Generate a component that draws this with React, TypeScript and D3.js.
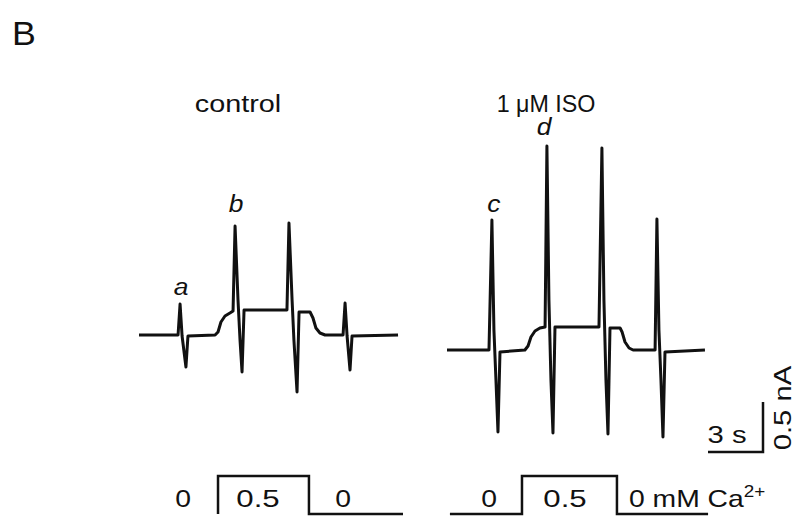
import React from 'react';
import * as d3 from 'd3';

// traces: time (s) / current (nA)
const controlTime = [0, 2.13, 2.24, 2.35, 2.56, 2.67, 4.15, 4.31, 4.47, 4.69, 4.96, 5.13, 5.24, 5.4, 5.51, 5.62, 5.73, 8.07, 8.18, 8.35, 8.45, 8.62, 8.73, 9.33, 9.49, 9.65, 9.87, 10.15, 11.13, 11.24, 11.35, 11.51, 11.62, 14.13];
const controlCurrent = [0, 0, 0.31, -0.01, -0.32, -0.01, 0, 0.03, 0.13, 0.19, 0.22, 0.24, 1.09, 0.35, -0.05, -0.37, 0.25, 0.25, 1.12, 0.35, -0.05, -0.57, 0.23, 0.23, 0.17, 0.07, 0.02, 0, 0, 0.32, -0.01, -0.35, -0.01, 0];

const isoTime = [0, 2.29, 2.45, 2.56, 2.67, 2.78, 2.89, 4.25, 4.42, 4.58, 4.8, 5.07, 5.35, 5.45, 5.56, 5.67, 5.78, 5.89, 8.29, 8.45, 8.56, 8.67, 8.78, 8.89, 9.44, 9.55, 9.71, 9.93, 10.15, 11.35, 11.45, 11.56, 11.67, 11.78, 11.89, 14.07];
const isoCurrent = [0, 0, 1.3, 0.2, -0.3, -0.82, -0.02, 0, 0.04, 0.13, 0.19, 0.22, 0.23, 2.04, 0.5, -0.3, -0.83, 0.23, 0.23, 2.02, 0.5, -0.3, -0.84, 0.22, 0.22, 0.18, 0.08, 0.02, 0, 0, 1.31, 0.2, -0.3, -0.87, -0.02, 0];

// Ca2+ protocol (s, mM)
const controlStepTime = [4.31, 4.31, 9.27, 9.27, 14.4];
const controlStepCa = [0, 0.5, 0.5, 0, 0];
const isoStepTime = [0.16, 4.09, 4.09, 9.27, 9.27, 14.24];
const isoStepCa = [0, 0, 0.5, 0.5, 0, 0];

const peakLabels = ['a', 'b', 'c', 'd'];
const stepLabels = ['0', '0.5', '0'];

const FONT = 'Liberation Sans, Arial, sans-serif';
const W = 797;
const H = 516;
const PX_PER_S = 55 / 3;
const PX_PER_NA = 100;

function zip(t: number[], v: number[]): [number, number][] {
    return t.map((d, i) => [d, v[i]]);
}

// the scanned lettering is a bit wider than Arial, so stretch it horizontally
function Label({ x, y, sx = 1.18, size = 24, rotate = 0, italic = false, anchor = 'middle', children }: any) {
    return (
        <text
            transform={`translate(${x},${y}) rotate(${rotate}) scale(${sx},1)`}
            textAnchor={anchor}
            style={{ fontFamily: FONT, fontSize: size, fill: '#111', fontStyle: italic ? 'italic' : 'normal' }}
        >
            {children}
        </text>
    );
}

export default function App() {
    const xCtrl = d3.scaleLinear().domain([0, 15]).range([139, 139 + 15 * PX_PER_S]);
    const xIso = d3.scaleLinear().domain([0, 15]).range([447, 447 + 15 * PX_PER_S]);
    const yCtrl = d3.scaleLinear().domain([-1, 2.5]).range([335 + PX_PER_NA, 335 - 2.5 * PX_PER_NA]);
    const yIso = d3.scaleLinear().domain([-1, 2.5]).range([350 + PX_PER_NA, 350 - 2.5 * PX_PER_NA]);
    const yCa = d3.scaleLinear().domain([0, 0.5]).range([514, 476]);

    const lineCtrl = d3.line<[number, number]>().x(d => xCtrl(d[0])).y(d => yCtrl(d[1]));
    const lineIso = d3.line<[number, number]>().x(d => xIso(d[0])).y(d => yIso(d[1]));
    const stepCtrl = d3.line<[number, number]>().x(d => xCtrl(d[0])).y(d => yCa(d[1]));
    const stepIso = d3.line<[number, number]>().x(d => xIso(d[0])).y(d => yCa(d[1]));

    // scale bar: 3 s, 0.5 nA, corner at bottom right
    const barX = 763;
    const barY = 452;
    const barW = xIso(3) - xIso(0);
    const barH = yIso(0) - yIso(0.5);

    return (
        <svg width={W} height={H} style={{ position: 'absolute', left: 0, top: 0, background: '#fff' }}>
            <rect width={W} height={H} fill="#fff" />
            <Label x={12} y={45} size={34} sx={1.05} anchor="start">B</Label>

            <Label x={238} y={112} sx={1.2}>control</Label>
            <Label x={546} y={112} sx={0.97}>1 μM ISO</Label>

            <path d={lineCtrl(zip(controlTime, controlCurrent)) || ''} fill="none" stroke="#111" strokeWidth={3} strokeLinejoin="round" />
            <path d={lineIso(zip(isoTime, isoCurrent)) || ''} fill="none" stroke="#111" strokeWidth={3} strokeLinejoin="round" />

            <Label x={xCtrl(2.3)} y={yCtrl(0.31) - 9} italic sx={1.1}>{peakLabels[0]}</Label>
            <Label x={xCtrl(5.3)} y={yCtrl(1.09) - 14} italic sx={1.1}>{peakLabels[1]}</Label>
            <Label x={xIso(2.55)} y={yIso(1.3) - 8} italic sx={1.1}>{peakLabels[2]}</Label>
            <Label x={xIso(5.3)} y={yIso(2.04) - 11} italic sx={1.1}>{peakLabels[3]}</Label>

            <path d={`M${barX - barW},${barY}H${barX}V${barY - barH}`} fill="none" stroke="#111" strokeWidth={2.5} />
            <Label x={727} y={443} sx={1.22}>3 s</Label>
            <Label x={791} y={408} rotate={-90} sx={1.22}>0.5 nA</Label>

            <path d={stepCtrl(zip(controlStepTime, controlStepCa)) || ''} fill="none" stroke="#111" strokeWidth={2.5} />
            <path d={stepIso(zip(isoStepTime, isoStepCa)) || ''} fill="none" stroke="#111" strokeWidth={2.5} />

            <Label x={183} y={507}>{stepLabels[0]}</Label>
            <Label x={258} y={507} sx={1.3}>{stepLabels[1]}</Label>
            <Label x={343} y={507}>{stepLabels[2]}</Label>
            <Label x={489} y={507}>{stepLabels[0]}</Label>
            <Label x={565} y={507} sx={1.3}>{stepLabels[1]}</Label>
            <Label x={629} y={507} anchor="start">
                0 mM Ca<tspan fontSize={16} dy={-10}>2+</tspan>
            </Label>
        </svg>
    );
}
